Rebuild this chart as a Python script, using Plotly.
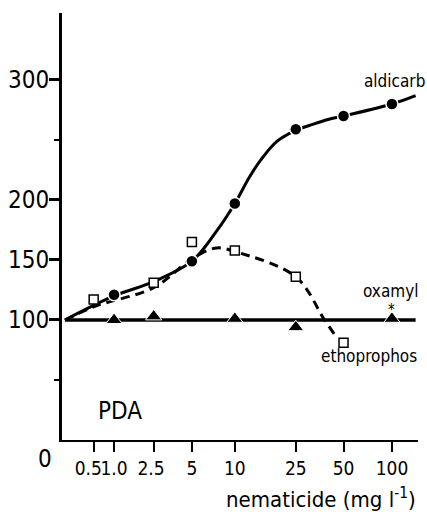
import numpy as np
import plotly.graph_objects as go

# x-axis tick positions (mg l-1) and labels
x_ticks = [0.5, 1.0, 2.5, 5, 10, 25, 50, 100]
x_tick_labels = ["0.5&nbsp;&nbsp;", "1.0", "2.5&nbsp;", "5", "10", "25", "50", "100"]
y_ticks = [100, 150, 200, 300]
y_tick_labels = ["100", "150", "200", "300"]
y_minor = [50, 250]

# measured points
ald_x = [1.0, 5, 10, 25, 50, 100]
ald_y = [121, 149, 197, 259, 270, 280]
eth_x = [0.5, 2.5, 5, 10, 25, 50]
eth_y = [117, 131, 165, 158, 136, 81]
oxa_x = [1.0, 2.5, 10, 25, 100]
oxa_y = [100, 103, 101, 94, 101]

# fitted curves as drawn in the figure
ald_fit_x = [0, 1.0, 2.5, 5, 7.5, 10, 12.5, 15, 19, 25, 32, 40, 50, 100, 140]
ald_fit_y = [100, 120, 132, 149, 174, 197, 219, 234, 249, 258, 263, 267, 270, 280, 287]
eth_fit_x = [0, 0.5, 2.5, 5, 7.5, 10, 25, 38, 45]
eth_fit_y = [100, 111, 127, 151, 160, 157, 136, 100, 86]
oxa_fit_x = [0, 140]
oxa_fit_y = [100, 100]

def tx(v):
    return [a + 1 for a in v]

FONT = "Liberation Sans Narrow, DejaVu Sans Condensed, Arial Narrow, sans-serif"

fig = go.Figure()
fig.add_trace(go.Scatter(x=tx(oxa_fit_x), y=oxa_fit_y, mode="lines",
                         line=dict(color="black", width=3.5), hoverinfo="skip"))
fig.add_trace(go.Scatter(x=tx(ald_fit_x), y=ald_fit_y, mode="lines",
                         line=dict(color="black", width=3, shape="spline", smoothing=1), hoverinfo="skip"))
fig.add_trace(go.Scatter(x=tx(eth_fit_x), y=eth_fit_y, mode="lines",
                         line=dict(color="black", width=3, dash="9px,6px", shape="spline"), hoverinfo="skip"))
fig.add_trace(go.Scatter(x=tx(ald_x), y=ald_y, mode="markers",
                         marker=dict(symbol="circle", size=12, color="black",
                                     line=dict(color="white", width=1.5))))
fig.add_trace(go.Scatter(x=tx(eth_x), y=eth_y, mode="markers",
                         marker=dict(symbol="square", size=9, color="white",
                                     line=dict(color="black", width=1.5))))
fig.add_trace(go.Scatter(x=tx(oxa_x), y=oxa_y, mode="markers",
                         marker=dict(symbol="triangle-up", size=14, color="black",
                                     line=dict(color="white", width=1))))

anns = [
    dict(text="aldicarb", x=np.log10(105), y=299, size=17),
    dict(text="oxamyl", x=np.log10(99), y=124, size=17),
    dict(text="ethoprophos", x=np.log10(73), y=70, size=17),
    dict(text="PDA", x=np.log10(2.18), y=24, size=24),
]
for a in anns:
    fig.add_annotation(text=a["text"], x=a["x"], y=a["y"], xref="x", yref="y",
                       showarrow=False, font=dict(family=FONT, size=a["size"], color="black"))
fig.add_annotation(text="*", x=np.log10(101), y=108, xref="x", yref="y", showarrow=False,
                   font=dict(family=FONT, size=15, color="black"))
fig.add_annotation(text="0", x=0, y=0, xref="paper", yref="y", xanchor="right", yanchor="top",
                   xshift=-8, yshift=-3, showarrow=False,
                   font=dict(family=FONT, size=24, color="black"))
fig.add_annotation(text="nematicide (mg l<sup>-1</sup>)", x=1, y=0, xref="paper", yref="paper",
                   xanchor="right", yanchor="top", yshift=-42, showarrow=False,
                   font=dict(family=FONT, size=22, color="black"))

fig.update_xaxes(type="log", range=[-0.018, 2.164], tickvals=tx(x_ticks), ticktext=x_tick_labels,
                 tickangle=0, automargin=False,
                 ticks="outside", ticklen=10, tickwidth=2, tickcolor="black",
                 showline=True, linewidth=2, linecolor="black", showgrid=False, zeroline=False,
                 tickfont=dict(family=FONT, size=19, color="black"))
fig.update_yaxes(range=[0, 355.8], tickvals=y_ticks, ticktext=y_tick_labels, automargin=False,
                 ticks="outside", ticklen=10, tickwidth=2.5, tickcolor="black", ticklabelstandoff=-5,
                 minor=dict(tickvals=y_minor, ticklen=5, tickwidth=1.5, tickcolor="black", ticks="outside"),
                 showline=True, linewidth=3, linecolor="black", showgrid=False, zeroline=False,
                 tickfont=dict(family=FONT, size=24, color="black"))
fig.update_layout(width=427, height=512, margin=dict(l=62, r=9, t=13, b=72),
                  plot_bgcolor="white", paper_bgcolor="white", showlegend=False)
fig.write_html("out.html")
